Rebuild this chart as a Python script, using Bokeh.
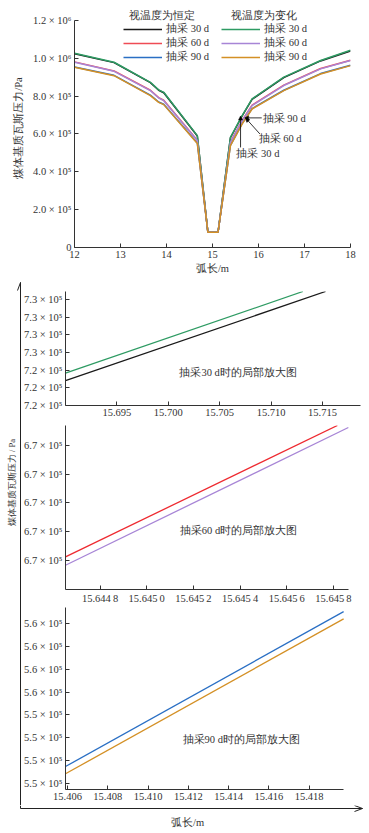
import numpy as np
from bokeh.plotting import figure
from bokeh.models import (FixedTicker, Legend, LegendItem, Label, Arrow,
                          NormalHead, Range1d)
from bokeh.layouts import column, row
from bokeh.embed import file_html
from bokeh.resources import INLINE

FONT = "Liberation Serif"

# ---------------- top chart data ----------------
arc_len = [12.0, 12.86, 13.65, 13.83, 13.94, 14.67, 14.90, 15.12, 15.39, 15.645, 15.86, 16.55, 17.35, 18.0]
const_30 = [1024000, 977000, 871000, 831000, 818000, 589000, 80000, 80000, 580000, 695000, 783000, 898000, 986000, 1038000]
const_60 = [981000, 933000, 831000, 792000, 778000, 567000, 80000, 80000, 558000, 672000, 752000, 858000, 946000, 990000]
const_90 = [954000, 910000, 805000, 769000, 757000, 552000, 80000, 80000, 540000, 655000, 734000, 831000, 919000, 963000]
var_30 = [1026000, 979000, 873000, 833000, 820000, 591000, 80000, 80000, 582000, 697000, 785000, 900000, 988000, 1042000]
var_60 = [979000, 931000, 829000, 790000, 776000, 565000, 80000, 80000, 556000, 670000, 750000, 856000, 944000, 988000]
var_90 = [952000, 908000, 803000, 767000, 755000, 550000, 80000, 80000, 538000, 653000, 732000, 829000, 917000, 961000]

series_labels = ["抽采 30 d", "抽采 60 d", "抽采 90 d"]
legend_titles = ["视温度为恒定", "视温度为变化"]

top_xticks = [12, 13, 14, 15, 16, 17, 18]
top_yticks = [0, 200000, 400000, 600000, 800000, 1000000, 1200000]
top_ylabels = ["0", "2.0 × 10⁵", "4.0 × 10⁵", "6.0 × 10⁵", "8.0 × 10⁵", "1.0 × 10⁶", "1.2 × 10⁶"]

# ---------------- zoom panels data ----------------
a_x_var = [15.6900, 15.7131]
a_y_var = [723830, 728450]
a_x_const = [15.6900, 15.7153]
a_y_const = [723410, 728450]
a_xticks = [15.695, 15.7, 15.705, 15.71, 15.715]
a_xlabels = ["15.695", "15.700", "15.705", "15.710", "15.715"]
a_yticks = [722000, 723000, 724000, 725000, 726000, 727000, 728000]
a_ylabels = ["7.2 × 10⁵", "7.2 × 10⁵", "7.2 × 10⁵", "7.3 × 10⁵", "7.3 × 10⁵", "7.3 × 10⁵", "7.3 × 10⁵"]

b_x_const = [15.644652, 15.645817]
b_y_const = [670113, 670568]
b_x_var = [15.644652, 15.645864]
b_y_var = [670084, 670561]
b_xticks = [15.6448, 15.645, 15.6452, 15.6454, 15.6456, 15.6458]
b_xlabels = ["15.644\u20098", "15.645\u20090", "15.645\u20092", "15.645\u20094", "15.645\u20096", "15.645\u20098"]
b_yticks = [670100, 670200, 670300, 670400, 670500]
b_ylabels = ["6.7 × 10⁵"] * 5

c_x = [15.4059, 15.41971]
c_y_const = [551730, 558540]
c_y_var = [551410, 558220]
c_xticks = [15.406, 15.408, 15.41, 15.412, 15.414, 15.416, 15.418]
c_xlabels = ["15.406", "15.408", "15.410", "15.412", "15.414", "15.416", "15.418"]
c_yticks = [551000, 552000, 553000, 554000, 555000, 556000, 557000, 558000]
c_ylabels = ["5.5 × 10⁵"] * 4 + ["5.6 × 10⁵"] * 4

panel_titles = ["抽采30 d时的局部放大图", "抽采60 d时的局部放大图", "抽采90 d时的局部放大图"]
outer_ylabel = "煤体基质瓦斯压力 / Pa"
outer_xlabel = "弧长/m"

C_BLACK = "#1a1a1a"
C_RED = "#ef4b55"
C_BLUE = "#2a6fc4"
C_GREEN = "#2e9b63"
C_PURPLE = "#a785d6"
C_ORANGE = "#d49025"
AX = "#333333"
TXT = "#333333"


def style_axes(p, fs="10.5px"):
    for ax in (p.xaxis[0], p.yaxis[0]):
        ax.axis_line_color = AX
        ax.axis_line_width = 1
        ax.major_tick_in = 4
        ax.major_tick_out = 0
        ax.major_tick_line_color = AX
        ax.minor_tick_line_color = None
        ax.major_label_text_font = FONT
        ax.major_label_text_font_size = fs
        ax.major_label_text_color = TXT
        ax.major_label_standoff = 3
        ax.axis_label_text_font = FONT
        ax.axis_label_text_font_style = "normal"
        ax.axis_label_text_font_size = "10.5px"
        ax.axis_label_text_color = TXT
    p.grid.visible = False
    p.outline_line_color = None


# ---------------- top figure ----------------
top = figure(width=369, height=280, x_range=Range1d(12, 18), y_range=Range1d(0, 1263000),
             output_backend="svg", toolbar_location=None, frame_align=False,
             min_border_left=74, min_border_right=19, min_border_top=8, min_border_bottom=33)
style_axes(top, "10.5px")
top.xaxis[0].ticker = FixedTicker(ticks=top_xticks)
top.xaxis[0].bounds = (12, 18)
top.xaxis[0].axis_label = "弧长/m"
top.xaxis[0].axis_label_standoff = 2
top.yaxis[0].ticker = FixedTicker(ticks=top_yticks)
top.yaxis[0].major_label_overrides = dict(zip(top_yticks, top_ylabels))
top.yaxis[0].bounds = (0, 1200000)
top.yaxis[0].axis_label = "煤体基质瓦斯压力/Pa"
top.yaxis[0].axis_label_standoff = 6

lw = 1.5
r_c30 = top.line(arc_len, const_30, line_color=C_BLACK, line_width=lw)
r_c60 = top.line(arc_len, const_60, line_color=C_RED, line_width=lw)
r_c90 = top.line(arc_len, const_90, line_color=C_BLUE, line_width=lw)
r_v30 = top.line(arc_len, var_30, line_color=C_GREEN, line_width=lw)
r_v60 = top.line(arc_len, var_60, line_color=C_PURPLE, line_width=lw)
r_v90 = top.line(arc_len, var_90, line_color=C_ORANGE, line_width=lw)


def make_legend(renderers, loc):
    return Legend(items=[LegendItem(label=l, renderers=[r]) for l, r in zip(series_labels, renderers)],
                  location=loc, padding=0, margin=0, spacing=0,
                  glyph_width=39, glyph_height=12, label_height=12, label_standoff=4,
                  label_text_font=FONT, label_text_font_size="10.5px", label_text_color=TXT,
                  border_line_alpha=0, background_fill_alpha=0)


top.add_layout(make_legend([r_c30, r_c60, r_c90], (49, 183)))
top.add_layout(make_legend([r_v30, r_v60, r_v90], (147, 183)))
for tx, tt in zip([13.91, 16.11], legend_titles):
    top.add_layout(Label(x=tx, y=1226000, text=tt, text_align="center", text_baseline="middle",
                         text_font=FONT, text_font_size="10.5px", text_color=TXT))

# annotations
ann_text = [("抽采 90 d", 16.09, 684000), ("抽采 60 d", 16.00, 577000), ("抽采 30 d", 15.52, 497000)]
for t, ax_, ay_ in ann_text:
    top.add_layout(Label(x=ax_, y=ay_, text=t, text_align="left", text_baseline="middle",
                         text_font=FONT, text_font_size="10.5px", text_color=TXT))
ann_arrows = [(16.07, 685000, 15.70, 685000), (16.03, 600000, 15.72, 684000), (15.61, 529000, 15.61, 695000)]
for x0, y0, x1, y1 in ann_arrows:
    top.add_layout(Arrow(end=NormalHead(size=4, fill_color="black", line_color="black", line_width=0.5),
                         x_start=x0, y_start=y0, x_end=x1, y_end=y1, line_width=0.8, line_color="black"))


# ---------------- zoom panels (common frame 63..360, axis lines cut by bounds) ----------------
def make_panel(h, xr, xbounds, yr, bt, bb, xticks, xlabels, yticks, ylabels):
    p = figure(width=348, height=h, x_range=Range1d(*xr), y_range=Range1d(*yr),
               output_backend="svg", toolbar_location=None, frame_align=False,
               min_border_left=42, min_border_right=9, min_border_top=bt, min_border_bottom=bb)
    style_axes(p, "10.5px")
    p.xaxis[0].ticker = FixedTicker(ticks=xticks)
    p.xaxis[0].major_label_overrides = dict(zip(xticks, xlabels))
    p.xaxis[0].bounds = xbounds
    p.yaxis[0].ticker = FixedTicker(ticks=yticks)
    p.yaxis[0].major_label_overrides = dict(zip(yticks, ylabels))
    return p


pa = make_panel(140, (15.6900, 15.7187), (15.6900, 15.7187), (722000, 728450), 11, 15,
                a_xticks, a_xlabels, a_yticks, a_ylabels)
pa.line(a_x_const, a_y_const, line_color=C_BLACK, line_width=1.3)
pa.line(a_x_var, a_y_var, line_color=C_GREEN, line_width=1.3)
pa.add_layout(Label(x=15.7068, y=723880, text=panel_titles[0], text_align="center", text_baseline="middle",
                    text_font=FONT, text_font_size="10.5px", text_color=TXT))

pb = make_panel(186, (15.644652, 15.645916), (15.644652, 15.645864), (670000, 670568), 5, 15,
                b_xticks, b_xlabels, b_yticks, b_ylabels)
pb.line(b_x_const, b_y_const, line_color="#ee2a30", line_width=1.3)
pb.line(b_x_var, b_y_var, line_color=C_PURPLE, line_width=1.3)
pb.add_layout(Label(x=15.645393, y=670203, text=panel_titles[1], text_align="center", text_baseline="middle",
                    text_font=FONT, text_font_size="10.5px", text_color=TXT))

pc = make_panel(199, (15.4059, 15.420549), (15.4059, 15.41971), (550720, 558720), 1, 16,
                c_xticks, c_xlabels, c_yticks, c_ylabels)
pc.line(c_x, c_y_const, line_color=C_BLUE, line_width=1.3)
pc.line(c_x, c_y_var, line_color=C_ORANGE, line_width=1.3)
pc.add_layout(Label(x=15.41463, y=552920, text=panel_titles[2], text_align="center", text_baseline="middle",
                    text_font=FONT, text_font_size="10.5px", text_color=TXT))

# ---------------- outer arrow frame (pixel-unit figures) ----------------
LINE = "#222222"
left = figure(width=21, height=525, x_range=Range1d(0, 21), y_range=Range1d(0, 525),
              output_backend="svg", toolbar_location=None, min_border=0, frame_align=False,
              x_axis_type=None, y_axis_type=None, outline_line_color=None)
left.grid.visible = False
left.segment(x0=[20, 20, 20], y0=[0, 523, 523], x1=[20, 17, 23], y1=[523, 515, 515],
             line_color=LINE, line_width=1)
left.text(x=[11], y=[323], text=[outer_ylabel], angle=np.pi / 2,
          text_align="center", text_baseline="middle",
          text_font={"value": FONT}, text_font_size="8.5px", text_color=TXT)

bottom = figure(width=369, height=28, x_range=Range1d(0, 369), y_range=Range1d(0, 28),
                output_backend="svg", toolbar_location=None, min_border=0, frame_align=False,
                x_axis_type=None, y_axis_type=None, outline_line_color=None)
bottom.grid.visible = False
bottom.segment(x0=[20, 20, 362, 362], y0=[28, 25, 25, 25], x1=[20, 362, 354, 354], y1=[25, 25, 28, 22],
               line_color=LINE, line_width=1)
bottom.text(x=[187], y=[11], text=[outer_xlabel], text_align="center", text_baseline="middle",
            text_font={"value": FONT}, text_font_size="10.5px", text_color=TXT)

lower = row(left, column(pa, pb, pc, spacing=0), spacing=0)
layout = column(top, lower, bottom, spacing=0)

open("out.html", "w").write(file_html(layout, INLINE))
